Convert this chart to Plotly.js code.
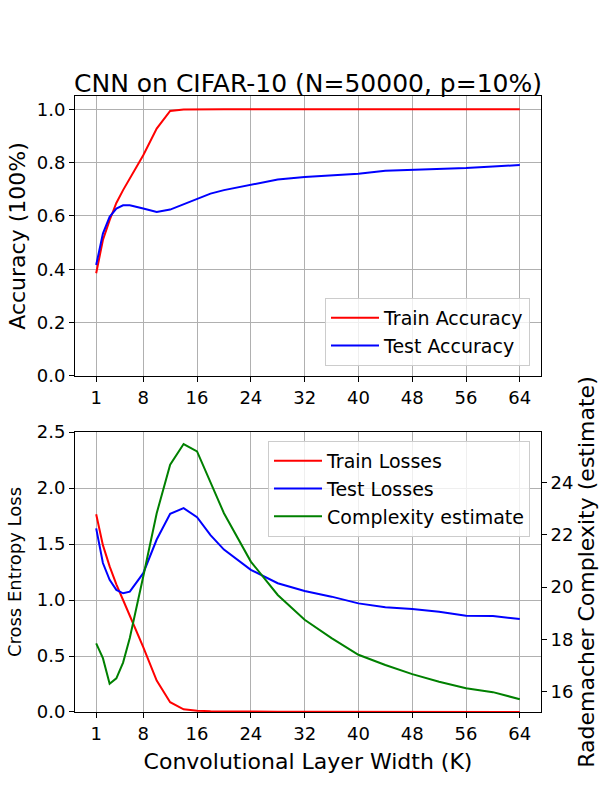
<!DOCTYPE html>
<html>
<head>
<meta charset="utf-8">
<script src="https://cdn.plot.ly/plotly-3.0.1.min.js"></script>
<style>html,body{margin:0;padding:0;background:#fff;}#chart{width:600px;height:800px;}</style>
</head>
<body>
<div id="chart"></div>
<script>
// Data
const widthK = [1,2,3,4,5,6,8,10,12,14,16,18,20,24,28,32,36,40,44,48,52,56,60,64];
const trainAccuracy = [0.385,0.51,0.584,0.649,0.697,0.74,0.828,0.928,0.994,0.999,1.0,1.0,1.0,1.0,1.0,1.0,1.0,1.0,1.0,1.0,1.0,1.0,1.0,1.0];
const testAccuracy = [0.416,0.534,0.597,0.628,0.64,0.64,0.628,0.615,0.624,0.643,0.665,0.684,0.697,0.718,0.737,0.746,0.752,0.758,0.77,0.773,0.776,0.78,0.786,0.791];
const trainLosses = [1.765,1.49,1.30,1.14,1.0,0.86,0.58,0.28,0.087,0.024,0.012,0.007,0.005,0.004,0.003,0.003,0.002,0.002,0.002,0.002,0.001,0.001,0.001,0.001];
const testLosses = [1.64,1.33,1.18,1.09,1.06,1.075,1.24,1.54,1.77,1.82,1.74,1.58,1.45,1.27,1.15,1.08,1.03,0.97,0.935,0.92,0.895,0.86,0.857,0.83];
const complexityEstimate = [17.85,17.28,16.3,16.51,17.11,18.05,20.41,22.83,24.69,25.48,25.2,23.98,22.83,20.98,19.7,18.75,18.05,17.41,17.02,16.67,16.38,16.13,15.98,15.71];
const xTicks = [1,8,16,24,32,40,48,56,64];

const FONT = 'DejaVu Sans, sans-serif';
const lw = 2;

const traces = [
  {x: widthK, y: trainAccuracy, name: 'Train Accuracy', mode: 'lines', line: {color: '#ff0000', width: lw}, xaxis: 'x', yaxis: 'y', legend: 'legend'},
  {x: widthK, y: testAccuracy, name: 'Test Accuracy', mode: 'lines', line: {color: '#0000ff', width: lw}, xaxis: 'x', yaxis: 'y', legend: 'legend'},
  {x: widthK, y: trainLosses, name: 'Train Losses', mode: 'lines', line: {color: '#ff0000', width: lw}, xaxis: 'x2', yaxis: 'y2', legend: 'legend2'},
  {x: widthK, y: testLosses, name: 'Test Losses', mode: 'lines', line: {color: '#0000ff', width: lw}, xaxis: 'x2', yaxis: 'y2', legend: 'legend2'},
  {x: widthK, y: complexityEstimate, name: 'Complexity estimate', mode: 'lines', line: {color: '#008000', width: lw}, xaxis: 'x2', yaxis: 'y3', legend: 'legend2'}
];

const axBase = {
  showline: true, linecolor: '#000', linewidth: 1, mirror: true,
  ticks: 'outside', ticklen: 5, tickwidth: 1, tickcolor: '#000',
  showgrid: true, gridcolor: '#b0b0b0', gridwidth: 1, zeroline: false,
  tickfont: {family: FONT, size: 18, color: '#000'}
};

const xBase = Object.assign({}, axBase, {range: [-2.15, 67.15], tickmode: 'array', tickvals: xTicks, ticktext: xTicks.map(String)});

const legendBase = {xref: 'paper', yref: 'paper', bgcolor: 'rgba(255,255,255,0.8)', bordercolor: '#cccccc', borderwidth: 1,
  itemwidth: 48, font: {family: FONT, size: 19, color: '#000'}};

const layout = {
  width: 600, height: 800,
  paper_bgcolor: '#fff', plot_bgcolor: '#fff',
  margin: {l: 75, r: 59, t: 96, b: 88},
  font: {family: FONT, color: '#000'},
  title: {text: 'CNN on CIFAR-10 (N=50000, p=10%)', font: {family: FONT, size: 25, color: '#000'}, x: 308/600, xanchor: 'center', xref: 'container', y: 1 - 83/800, yanchor: 'middle', yref: 'container'},
  xaxis: Object.assign({}, xBase, {domain: [0, 1], anchor: 'y'}),
  yaxis: Object.assign({}, axBase, {domain: [0.5455, 1], anchor: 'x', range: [0, 1.05], tickvals: [0,0.2,0.4,0.6,0.8,1.0], ticktext: ['0.0','0.2','0.4','0.6','0.8','1.0'],
    title: {text: 'Accuracy (100%)', font: {family: FONT, size: 22, color: '#000'}, standoff: 5}}),
  xaxis2: Object.assign({}, xBase, {domain: [0, 1], anchor: 'y2',
    title: {text: 'Convolutional Layer Width (K)', font: {family: FONT, size: 22, color: '#000'}, standoff: 11}}),
  yaxis2: Object.assign({}, axBase, {domain: [0, 0.4545], anchor: 'x2', range: [0, 2.5], tickvals: [0,0.5,1.0,1.5,2.0,2.5], ticktext: ['0.0','0.5','1.0','1.5','2.0','2.5'],
    title: {text: 'Cross Entropy Loss', font: {family: FONT, size: 18, color: '#000'}, standoff: 10}}),
  yaxis3: Object.assign({}, axBase, {overlaying: 'y2', side: 'right', anchor: 'x2', range: [15.22, 25.94], showgrid: false, tickvals: [16,18,20,22,24],
    title: {text: 'Rademacher Complexity (estimate)', font: {family: FONT, size: 22, color: '#000'}, standoff: 6}}),
  legend: Object.assign({}, legendBase, {x: (530-75)/466, xanchor: 'right', y: (712-366)/616, yanchor: 'bottom'}),
  legend2: Object.assign({}, legendBase, {x: (530-75)/466, xanchor: 'right', y: (712-441)/616, yanchor: 'top'}),
  showlegend: true
};

Plotly.newPlot('chart', traces, layout, {staticPlot: true, displayModeBar: false});
</script>
</body>
</html>
